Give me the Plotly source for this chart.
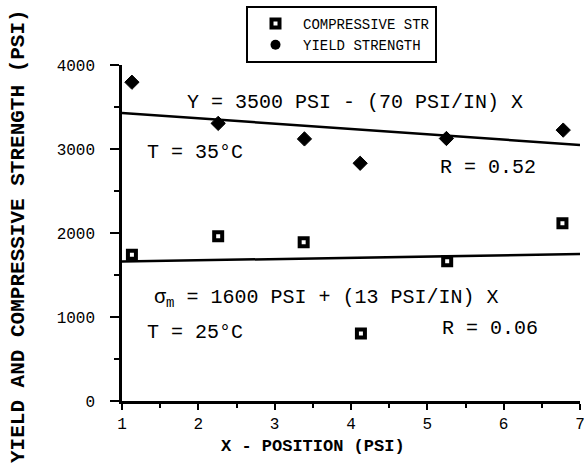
import plotly.graph_objects as go

# ---- data ----
comp_x = [1.13, 2.26, 3.38, 4.13, 5.26, 6.77]
comp_y = [1740, 1960, 1890, 805, 1665, 2115]

yield_x = [1.13, 2.26, 3.39, 4.12, 5.25, 6.78]
yield_y = [3795, 3305, 3120, 2830, 3125, 3225]

fit_x = [1, 7]
comp_fit = [1660, 1750]
yield_fit = [3430, 3048]

x_ticks = [1, 2, 3, 4, 5, 6, 7]
y_ticks = [0, 1000, 2000, 3000, 4000]

MONO = "Courier New, Liberation Mono, monospace"

W, H = 584, 468
PL, PR, PT, PB = 122, 580, 65, 401  # plot area in page px

fig = go.Figure()

fig.add_trace(go.Scatter(x=fit_x, y=yield_fit, mode="lines", hoverinfo="skip",
                         line=dict(color="black", width=2.5), showlegend=False))
fig.add_trace(go.Scatter(x=fit_x, y=comp_fit, mode="lines", hoverinfo="skip",
                         line=dict(color="black", width=2.5), showlegend=False))

comp_marker = dict(symbol="square", size=8, color="white", line=dict(color="black", width=4))
fig.add_trace(go.Scatter(x=comp_x, y=comp_y, mode="markers", name="COMPRESSIVE STR",
                         marker=comp_marker))
fig.add_trace(go.Scatter(x=yield_x, y=yield_y, mode="markers", name="YIELD STRENGTH",
                         showlegend=False,
                         marker=dict(symbol="diamond", size=11, color="black",
                                     line=dict(color="black", width=1))))
# legend entry for yield strength uses a filled circle, as in the reference
fig.add_trace(go.Scatter(x=[None], y=[None], mode="markers", name="YIELD STRENGTH",
                         marker=dict(symbol="circle", size=10, color="black")))

ann_font = dict(family=MONO, size=20, color="black")
annotations = [
    dict(x=4.05, y=3548, text="Y = 3500 PSI - (70 PSI/IN) X", xanchor="center"),
    dict(x=1.30, y=2964, text="T = 35°C", xanchor="left"),
    dict(x=5.14, y=2774, text="R = 0.52", xanchor="left"),
    dict(x=1.39, y=1226, text="σ<sub>m</sub> = 1600 PSI + (13 PSI/IN) X", xanchor="left"),
    dict(x=1.30, y=810, text="T = 25°C", xanchor="left"),
    dict(x=5.17, y=869, text="R = 0.06", xanchor="left"),
]
for a in annotations:
    a.update(xref="x", yref="y", showarrow=False, yanchor="middle", font=ann_font)

pw, ph = PR - PL, PB - PT
annotations.append(dict(xref="paper", yref="paper", x=(18 - PL) / pw, y=(PB - 236) / ph,
                        text="<b>YIELD AND COMPRESSIVE STRENGTH (PSI)</b>", textangle=-90,
                        showarrow=False, xanchor="center", yanchor="middle",
                        font=dict(family=MONO, size=21, color="black")))
annotations.append(dict(xref="paper", yref="paper", x=(313 - PL) / pw, y=(PB - 446) / ph,
                        text="<b>X - POSITION (PSI)</b>",
                        showarrow=False, xanchor="center", yanchor="middle",
                        font=dict(family=MONO, size=17, color="black")))

fig.update_layout(
    width=W, height=H,
    margin=dict(l=PL, r=W - PR, t=PT, b=H - PB, autoexpand=False),
    plot_bgcolor="white", paper_bgcolor="white",
    font=dict(family=MONO, size=16, color="black"),
    annotations=annotations,
    legend=dict(x=(246 - PL) / pw, y=(PB - 6) / ph, xanchor="left", yanchor="top",
                bordercolor="black", borderwidth=2, bgcolor="white", itemwidth=45,
                font=dict(family=MONO, size=14, color="black")),
    xaxis=dict(range=[1, 7], tickvals=x_ticks, ticktext=[str(v) for v in x_ticks],
               showgrid=False, zeroline=False, showline=True, linecolor="black", linewidth=2.5,
               ticks="outside", ticklen=6, tickwidth=2, tickcolor="black",
               minor=dict(dtick=0.5, ticks="outside", ticklen=4, tickwidth=2, tickcolor="black"),
               tickfont=dict(family=MONO, size=16), ticklabelstandoff=0,
               ticklabeloverflow="allow"),
    yaxis=dict(range=[0, 4000], tickvals=y_ticks, ticktext=[str(v) for v in y_ticks],
               showgrid=False, zeroline=False, showline=True, linecolor="black", linewidth=2.5,
               ticks="outside", ticklen=9, tickwidth=2, tickcolor="black",
               minor=dict(dtick=500, ticks="outside", ticklen=5, tickwidth=2, tickcolor="black"),
               tickfont=dict(family=MONO, size=16), ticklabelstandoff=12),
)

# remove the browser's default 8px page margin so the figure fills the window exactly
fig.write_html("out.html", config={"displayModeBar": False},
               post_script="document.body.style.margin='0';document.body.style.overflow='hidden';")
